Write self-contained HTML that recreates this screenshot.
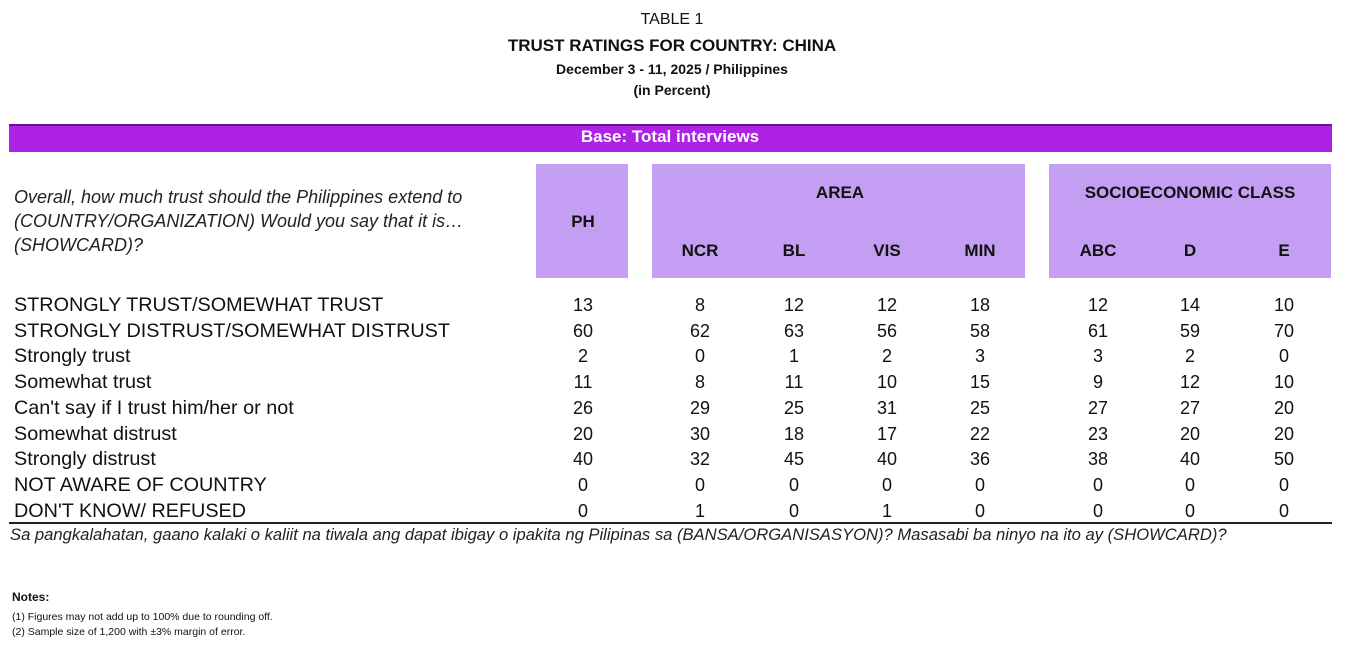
<!DOCTYPE html>
<html><head><meta charset="utf-8"><style>
body{margin:0;width:1348px;height:646px;background:#fff;font-family:"Liberation Sans",Arial,sans-serif;color:#111;position:relative;overflow:hidden}
.a{position:absolute;white-space:nowrap}
.c{transform:translateX(-50%)}
.t{font-weight:bold;left:672px}
.box{position:absolute;background:#c49ef2;top:164px;height:114px}
.h{font-weight:bold;font-size:17px}
.r{font-size:18px}
.l{font-size:19.8px;top:-1px}
</style></head><body>
<div class="a t c" style="top:11px;font-size:16px;font-weight:normal">TABLE 1</div>
<div class="a t c" style="top:36px;font-size:17px">TRUST RATINGS FOR COUNTRY: CHINA</div>
<div class="a t c" style="top:61px;font-size:14px">December 3 - 11, 2025 / Philippines</div>
<div class="a t c" style="top:82px;font-size:14px">(in Percent)</div>
<div class="a" style="left:9px;top:124px;width:1323px;height:28px;background:#ae22e6;border-top:2px solid #6a1290;box-sizing:border-box"></div>
<div class="a c" style="left:670px;top:127px;color:#fff;font-weight:bold;font-size:17px">Base: Total interviews</div>
<div class="box" style="left:536px;width:92px"></div>
<div class="box" style="left:652px;width:373px"></div>
<div class="box" style="left:1049px;width:282px"></div>
<div class="a" style="left:14px;top:185px;font-style:italic;font-size:18px;line-height:24px;color:#222">Overall, how much trust should the Philippines extend to<br>(COUNTRY/ORGANIZATION) Would you say that it is…<br>(SHOWCARD)?</div>
<div class="a h c" style="left:583px;top:212px">PH</div>
<div class="a h c" style="left:840px;top:183px">AREA</div>
<div class="a h c" style="left:1190px;top:183px">SOCIOECONOMIC CLASS</div>
<div class="a h c" style="left:700px;top:241px">NCR</div>
<div class="a h c" style="left:794px;top:241px">BL</div>
<div class="a h c" style="left:887px;top:241px">VIS</div>
<div class="a h c" style="left:980px;top:241px">MIN</div>
<div class="a h c" style="left:1098px;top:241px">ABC</div>
<div class="a h c" style="left:1190px;top:241px">D</div>
<div class="a h c" style="left:1284px;top:241px">E</div>
<div id="rows"></div>
<div class="a" style="left:9px;top:522px;width:1323px;height:2px;background:#222"></div>
<div class="a" style="left:10px;top:525px;font-style:italic;font-size:16.6px;color:#222">Sa pangkalahatan, gaano kalaki o kaliit na tiwala ang dapat ibigay o ipakita ng Pilipinas sa (BANSA/ORGANISASYON)? Masasabi ba ninyo na ito ay (SHOWCARD)?</div>
<div class="a" style="left:12px;top:590px;font-size:12px;font-weight:bold">Notes:</div>
<div class="a" style="left:12px;top:611px;font-size:10.5px">(1) Figures may not add up to 100% due to rounding off.</div>
<div class="a" style="left:12px;top:626px;font-size:10.5px">(2) Sample size of 1,200 with ±3% margin of error.</div>
<script>
var d=[["STRONGLY TRUST/SOMEWHAT TRUST",13,8,12,12,18,12,14,10],
["STRONGLY DISTRUST/SOMEWHAT DISTRUST",60,62,63,56,58,61,59,70],
["Strongly trust",2,0,1,2,3,3,2,0],
["Somewhat trust",11,8,11,10,15,9,12,10],
["Can't say if I trust him/her or not",26,29,25,31,25,27,27,20],
["Somewhat distrust",20,30,18,17,22,23,20,20],
["Strongly distrust",40,32,45,40,36,38,40,50],
["NOT AWARE OF COUNTRY",0,0,0,0,0,0,0,0],
["DON'T KNOW/ REFUSED",0,1,0,1,0,0,0,0]];
var xs=[583,700,794,887,980,1098,1190,1284],h="";
d.forEach(function(r,i){var y=295+i*25.7;
h+='<div class="a r" style="left:14px;top:'+(y-1)+'px;font-size:19.8px">'+r[0]+'</div>';
for(var j=1;j<9;j++)h+='<div class="a r c" style="left:'+xs[j-1]+'px;top:'+y+'px">'+r[j]+'</div>';});
document.getElementById("rows").innerHTML=h;
</script>
</body></html>
